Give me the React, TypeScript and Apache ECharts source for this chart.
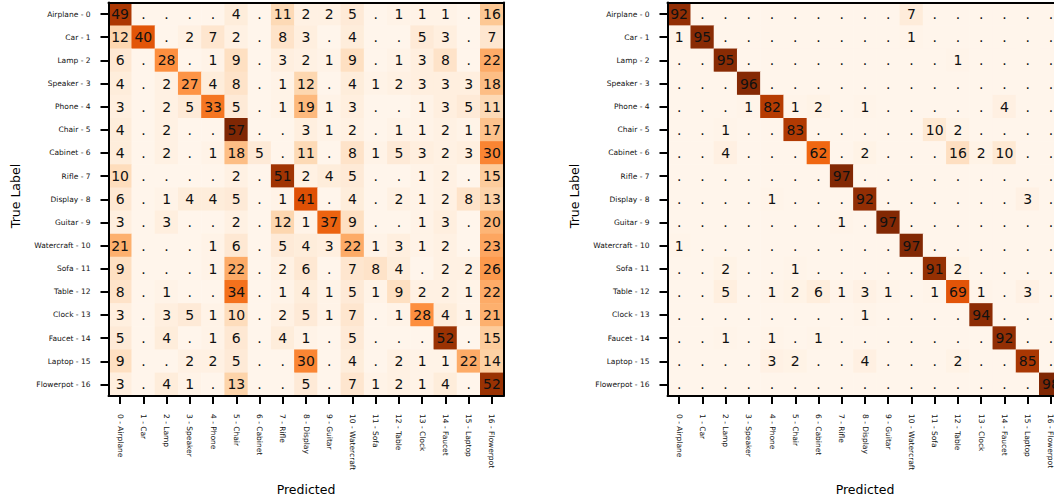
import React, { useEffect, useRef } from "react";
import * as echarts from "echarts";

const classNames = [
  "Airplane", "Car", "Lamp", "Speaker", "Phone", "Chair", "Cabinet", "Rifle", "Display",
  "Guitar", "Watercraft", "Sofa", "Table", "Clock", "Faucet", "Laptop", "Flowerpot",
];
const yTickLabels = classNames.map((c, i) => `${c} - ${i}`);
const xTickLabels = classNames.map((c, i) => `${i} - ${c}`);

// left confusion matrix (0 drawn as ".")
const leftMatrix = [
  [49, 0, 0, 0, 0, 4, 0, 11, 2, 2, 5, 0, 1, 1, 1, 0, 16],
  [12, 40, 0, 2, 7, 2, 0, 8, 3, 0, 4, 0, 0, 5, 3, 0, 7],
  [6, 0, 28, 0, 1, 9, 0, 3, 2, 1, 9, 0, 1, 3, 8, 0, 22],
  [4, 0, 2, 27, 4, 8, 0, 1, 12, 0, 4, 1, 2, 3, 3, 3, 18],
  [3, 0, 2, 5, 33, 5, 0, 1, 19, 1, 3, 0, 0, 1, 3, 5, 11],
  [4, 0, 2, 0, 0, 57, 0, 0, 3, 1, 2, 0, 1, 1, 2, 1, 17],
  [4, 0, 2, 0, 1, 18, 5, 0, 11, 0, 8, 1, 5, 3, 2, 3, 30],
  [10, 0, 0, 0, 0, 2, 0, 51, 2, 4, 5, 0, 0, 1, 2, 0, 15],
  [6, 0, 1, 4, 4, 5, 0, 1, 41, 0, 4, 0, 2, 1, 2, 8, 13],
  [3, 0, 3, 0, 0, 2, 0, 12, 1, 37, 9, 0, 0, 1, 3, 0, 20],
  [21, 0, 0, 0, 1, 6, 0, 5, 4, 3, 22, 1, 3, 1, 2, 0, 23],
  [9, 0, 0, 0, 1, 22, 0, 2, 6, 0, 7, 8, 4, 0, 2, 2, 26],
  [8, 0, 1, 0, 0, 34, 0, 1, 4, 1, 5, 1, 9, 2, 2, 1, 22],
  [3, 0, 3, 5, 1, 10, 0, 2, 5, 1, 7, 0, 1, 28, 4, 1, 21],
  [5, 0, 4, 0, 1, 6, 0, 4, 1, 0, 5, 0, 0, 0, 52, 0, 15],
  [9, 0, 0, 2, 2, 5, 0, 0, 30, 0, 4, 0, 2, 1, 1, 22, 14],
  [3, 0, 4, 1, 0, 13, 0, 0, 5, 0, 7, 1, 2, 1, 4, 0, 52],
];

// right confusion matrix
const rightMatrix = [
  [92, 0, 0, 0, 0, 0, 0, 0, 0, 0, 7, 0, 0, 0, 0, 0, 0],
  [1, 95, 0, 0, 0, 0, 0, 0, 0, 0, 1, 0, 0, 0, 0, 0, 0],
  [0, 0, 95, 0, 0, 0, 0, 0, 0, 0, 0, 0, 1, 0, 0, 0, 0],
  [0, 0, 0, 96, 0, 0, 0, 0, 0, 0, 0, 0, 0, 0, 0, 0, 0],
  [0, 0, 0, 1, 82, 1, 2, 0, 1, 0, 0, 0, 0, 0, 4, 0, 0],
  [0, 0, 1, 0, 0, 83, 0, 0, 0, 0, 0, 10, 2, 0, 0, 0, 0],
  [0, 0, 4, 0, 0, 0, 62, 0, 2, 0, 0, 0, 16, 2, 10, 0, 0],
  [0, 0, 0, 0, 0, 0, 0, 97, 0, 0, 0, 0, 0, 0, 0, 0, 0],
  [0, 0, 0, 0, 1, 0, 0, 0, 92, 0, 0, 0, 0, 0, 0, 3, 0],
  [0, 0, 0, 0, 0, 0, 0, 1, 0, 97, 0, 0, 0, 0, 0, 0, 0],
  [1, 0, 0, 0, 0, 0, 0, 0, 0, 0, 97, 0, 0, 0, 0, 0, 0],
  [0, 0, 2, 0, 0, 1, 0, 0, 0, 0, 0, 91, 2, 0, 0, 0, 0],
  [0, 0, 5, 0, 1, 2, 6, 1, 3, 1, 0, 1, 69, 1, 0, 3, 0],
  [0, 0, 0, 0, 0, 0, 0, 0, 1, 0, 0, 0, 0, 94, 0, 0, 0],
  [0, 0, 1, 0, 1, 0, 1, 0, 0, 0, 0, 0, 0, 0, 92, 0, 0],
  [0, 0, 0, 0, 3, 2, 0, 0, 4, 0, 0, 0, 2, 0, 0, 85, 0],
  [0, 0, 0, 0, 0, 0, 0, 0, 0, 0, 0, 0, 0, 0, 0, 0, 98],
];

const axisTitleX = "Predicted";
const axisTitleY = "True Label";

const orangesColors = [
  "#fff5eb", "#fee6ce", "#fdd0a2", "#fdae6b", "#fd8d3c",
  "#f16913", "#d94801", "#a63603", "#7f2704",
];

const FONT = "DejaVu Sans";

function toCells(m: number[][]) {
  const out: [number, number, number][] = [];
  m.forEach((row, y) => row.forEach((v, x) => out.push([x, y, v])));
  return out;
}

function axesFor(gridIndex: number) {
  const line = { show: true, lineStyle: { color: "#000", width: 2 } };
  const tick = { show: true, alignWithLabel: true, length: 8, lineStyle: { color: "#000", width: 2 } };
  const xs = [
    {
      type: "category", gridIndex, data: xTickLabels, position: "bottom", z: 10,
      axisLine: line, axisTick: tick, splitLine: { show: false },
      axisLabel: { interval: 0, rotate: -90, margin: 18, fontSize: 7.5, color: "#111", fontFamily: FONT },
    },
    {
      type: "category", gridIndex, data: xTickLabels, position: "top", z: 10,
      axisLine: line, axisTick: { show: false }, axisLabel: { show: false }, splitLine: { show: false },
    },
  ];
  const ys = [
    {
      type: "category", gridIndex, data: yTickLabels, position: "left", inverse: true, z: 10,
      axisLine: line, axisTick: tick, splitLine: { show: false },
      axisLabel: { interval: 0, margin: 18, fontSize: 7.5, color: "#111", fontFamily: FONT },
    },
    {
      type: "category", gridIndex, data: yTickLabels, position: "right", inverse: true, z: 10,
      axisLine: line, axisTick: { show: false }, axisLabel: { show: false }, splitLine: { show: false },
    },
  ];
  return { xs, ys };
}

export default function App() {
  const ref = useRef<HTMLDivElement>(null);
  useEffect(() => {
    if (!ref.current) return;
    const chart = echarts.init(ref.current, undefined, { renderer: "svg" });
    const a0 = axesFor(0);
    const a1 = axesFor(1);
    const cellLabel = {
      show: true,
      fontSize: 14,
      fontFamily: FONT,
      color: "#111",
      formatter: (p: any) => (p.value[2] === 0 ? "." : String(p.value[2])),
    };
    const titleStyle = { fontSize: 12.5, fontFamily: FONT, fill: "#000", textAlign: "center", textVerticalAlign: "middle" };
    chart.setOption({
      animation: false,
      backgroundColor: "#fff",
      grid: [
        { left: 108.5, top: 2.5, width: 395, height: 393.5, outerBoundsMode: "none", containLabel: false },
        { left: 667.5, top: 2.5, width: 395, height: 393.5, outerBoundsMode: "none", containLabel: false },
      ],
      xAxis: [...a0.xs, ...a1.xs],
      yAxis: [...a0.ys, ...a1.ys],
      visualMap: [
        { type: "continuous", show: false, seriesIndex: 0, min: 0, max: Math.max(...leftMatrix.flat()), inRange: { color: orangesColors } },
        { type: "continuous", show: false, seriesIndex: 1, min: 0, max: Math.max(...rightMatrix.flat()), inRange: { color: orangesColors } },
      ],
      series: [
        {
          type: "heatmap", xAxisIndex: 0, yAxisIndex: 0, data: toCells(leftMatrix),
          label: cellLabel, emphasis: { disabled: true }, itemStyle: { borderWidth: 0 },
        },
        {
          type: "heatmap", xAxisIndex: 2, yAxisIndex: 2, data: toCells(rightMatrix),
          label: cellLabel, emphasis: { disabled: true }, itemStyle: { borderWidth: 0 },
        },
      ],
      graphic: [
        { type: "text", x: 15, y: 196, rotation: Math.PI / 2, style: { text: axisTitleY, ...titleStyle } },
        { type: "text", x: 574, y: 196, rotation: Math.PI / 2, style: { text: axisTitleY, ...titleStyle } },
        { type: "text", x: 306, y: 489, style: { text: axisTitleX, ...titleStyle } },
        { type: "text", x: 865, y: 489, style: { text: axisTitleX, ...titleStyle } },
      ],
    });
    return () => chart.dispose();
  }, []);
  return (
    <div
      ref={ref}
      style={{ position: "fixed", left: 0, top: 0, width: 1054, height: 502, overflow: "hidden", background: "#fff" }}
    />
  );
}
